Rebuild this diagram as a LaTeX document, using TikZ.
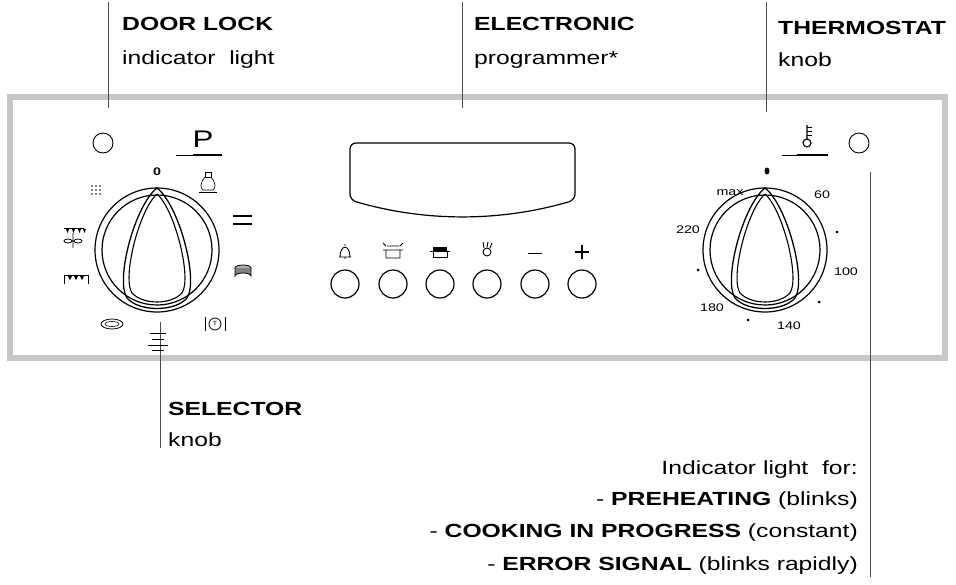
\documentclass[tikz,border=0pt]{standalone}
\usepackage{fontspec}
\setmainfont{Liberation Sans}[FakeStretch=1.3]
\begin{document}
\begin{tikzpicture}[x=1pt,y=-1pt,
  lbl/.style={anchor=west,font=\fontsize{19}{20}\selectfont,inner sep=0},
  lead/.style={line width=0.8pt,black!70},
  btn/.style={circle,draw,line width=1.2pt,minimum size=28pt,inner sep=0},
  lamp/.style={circle,draw,line width=0.9pt,minimum size=20pt,inner sep=0},
  sc/.style={font=\fontsize{11}{12}\selectfont,inner sep=0},
  dt/.style={circle,fill,inner sep=0,minimum size=3pt},
  knob/.pic={
    \draw[line width=1.2pt] (0,0) circle (62);
    \draw[line width=1.2pt] (0,0) circle (55);
    \draw[line width=1.3pt] (0,-62) .. controls (-22,-45) and (-42,30) .. (-30,48) .. controls (-18,62) and (18,62) .. (30,48) .. controls (42,30) and (22,-45) .. (0,-62);
    \draw[line width=1.1pt] (0,-56) .. controls (-18,-40) and (-35,28) .. (-25,43) .. controls (-14,55) and (14,55) .. (25,43) .. controls (35,28) and (18,-40) .. (0,-56);
  }]
\useasboundingbox (0,0) rectangle (956,584);
\draw[line width=6pt,black!22] (10,97) rectangle (945,358);
\node[lbl] (dl) at (122,24) {\textbf{DOOR LOCK}};
\node[lbl] (dl2) at (122,60) {indicator\ \ light};
\node[lbl] (el) at (474,24) {\textbf{ELECTRONIC}};
\node[lbl] (el2) at (474,60) {programmer*};
\node[lbl] (th) at (778,28) {\textbf{THERMOSTAT}};
\node[lbl] (th2) at (778,60) {knob};
\coordinate (dlt) at (108,2); \coordinate (dlb) at (108,108);
\coordinate (elt) at (462,2); \coordinate (elb) at (462,108);
\coordinate (tht) at (766,2); \coordinate (thb) at (766,112);
\draw[lead] (dlt)--(dlb); \draw[lead] (elt)--(elb); \draw[lead] (tht)--(thb);
\node[lbl] (se) at (168,409) {\textbf{SELECTOR}};
\node[lbl] (se2) at (168,440) {knob};
\coordinate (st) at (160,322); \coordinate (sb) at (160,448);
\draw[lead] (st)--(sb);
\coordinate (it) at (870,172); \coordinate (ib) at (870,577);
\draw[lead] (it)--(ib);
\begin{scope}[every node/.style={anchor=east,font=\fontsize{19}{20}\selectfont,inner sep=0}]
\node (i1) at (858,470) {Indicator light\ \ for:};
\node (i2) at (858,501) {- \textbf{PREHEATING} (blinks)};
\node (i3) at (858,533) {- \textbf{COOKING IN PROGRESS} (constant)};
\node (i4) at (858,566) {- \textbf{ERROR SIGNAL} (blinks rapidly)};
\end{scope}
\node[lamp] (l1) at (103,143) {};
\node[lamp] (l2) at (859,143) {};
\pic at (157,250) {knob};
\node[sc] (z0) at (157,172) {\textbf{0}};
\node[font=\fontsize{24}{24}\selectfont,inner sep=0] (P) at (203,139) {P};
\draw[line width=0.6pt] (176,155)--(222,155); \draw[line width=2pt] (193,155)--(222,155);
\draw[line width=0.7pt] (205,172) rectangle (211,177);
\draw[line width=0.7pt] (205,177) .. controls (200,183) and (200,188) .. (203,190) -- (213,190) .. controls (216,188) and (216,183) .. (211,177);
\draw[line width=0.5pt] (199,192)--(217,192);
\foreach \i in {0,1,2} \foreach \j in {0,1,2} \fill (92+\i*4,186+\j*4) circle (0.9);
\draw[line width=1.3pt] (233,216)--(252,216) (233,224)--(252,224);
\draw[line width=1pt] (64,228)--(84,228);
\foreach \x in {66,72,78,83} \fill (\x,229)--(\x+3,229)--(\x+1.5,233)--cycle;
\draw[line width=0.8pt] (73,233)--(73,248) (68,241) ellipse (4 and 2) (78,241) ellipse (4 and 2);
\draw[line width=1pt] (64,284)--(64,275)--(88,275)--(88,284);
\foreach \x in {68,74,80} \fill (\x,276)--(\x+4,276)--(\x+2,280)--cycle;
\draw[line width=0.8pt] (112,324) ellipse (11 and 5); \draw[line width=0.6pt] (112,324) ellipse (7 and 2.5);
\draw[line width=0.7pt] (150,333)--(166,333) (152,339)--(164,339) (148,345)--(168,345) (152,350)--(164,350);
\draw[line width=0.8pt,fill=black!30] (243,268) ellipse (8 and 3);
\draw[line width=0.8pt,fill=black!50] (235,268)--(235,276) arc (180:360:8 and 3)--(251,268);
\draw[line width=0.8pt] (215,324) circle (6);
\draw[line width=0.8pt] (205,317)--(205,331) (225,317)--(225,331);
\node[font=\fontsize{6}{6}\selectfont,inner sep=0] (tT) at (215,323) {T};
\draw[line width=1.2pt,rounded corners=6pt] (350,143) -- (575,143) -- (575,200) .. controls (500,222) and (425,222) .. (350,200) -- cycle;
\foreach \x/\n in {345/b1,393/b2,440/b3,487/b4,535/b5,582/b6} \node[btn] (\n) at (\x,284) {};
\draw[line width=0.9pt] (339,257)--(351,257) (340,257) .. controls (340,244) and (350,244) .. (350,257) (345,257) -- (345,259) (345,246)--(345,244);
\draw[line width=0.9pt] (386,250) -- (386,258) -- (400,258) -- (400,250) (383,250)--(403,250) (387,246)--(399,246) (383,243)--(386,246) (403,243)--(400,246);
\draw[line width=0.9pt] (433,251) -- (433,257) -- (447,257) -- (447,251) (430,251)--(450,251);
\fill (433,247) rectangle (447,251);
\draw[line width=0.9pt] (487,252) circle (4) (484,248)--(483,242) (487,247)--(488,242) (490,248)--(492,243);
\draw[line width=1pt] (528,253)--(542,253);
\draw[line width=1.2pt] (575,252)--(589,252) (582,245)--(582,259);
\pic at (765,250) {knob};
\fill (767,171) ellipse (2.5 and 3.5);
\node[sc] (t1) at (730,193) {max};
\node[sc] (t2) at (822,195) {60};
\node[sc] (t3) at (688,230) {220};
\node[sc] (t4) at (846,272) {100};
\node[sc] (t5) at (712,308) {180};
\node[sc] (t6) at (789,326) {140};
\node[dt] (d1) at (837,232) {}; \node[dt] (d2) at (698,270) {};
\node[dt] (d3) at (819,302) {}; \node[dt] (d4) at (748,320) {};
\draw[line width=1.1pt] (807,125)--(807,139) (807,143) circle (4);
\foreach \y in {127,131,135} \draw[line width=0.7pt] (807,\y)--(812,\y);
\draw[line width=0.6pt] (782,155)--(828,155); \draw[line width=2pt] (797,155)--(828,155);
\end{tikzpicture}
\end{document}
